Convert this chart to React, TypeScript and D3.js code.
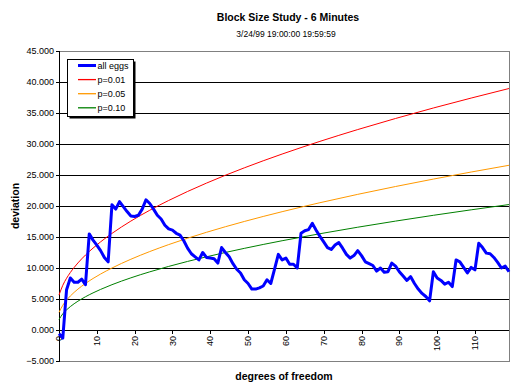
import React from "react";
import * as d3 from "d3";

const title = "Block Size Study - 6 Minutes";
const subtitle = "3/24/99 19:00:00 19:59:59";
const xTitle = "degrees of freedom";
const yTitle = "deviation";

// all eggs series, one value per category 0..119
const allEggs: number[] = [
  -0.6, -1.3, 6.5, 8.4, 7.7, 7.7, 8.2, 7.3, 15.5, 14.5,
  13.7, 12.8, 11.7, 11.0, 20.2, 19.5, 20.7, 19.9, 19.1, 18.4,
  18.3, 18.5, 19.5, 21.0, 20.4, 19.5, 18.5, 17.9, 16.9, 16.3,
  16.1, 15.6, 15.3, 14.4, 13.2, 12.3, 11.8, 11.3, 12.5, 11.7,
  11.6, 11.5, 10.8, 13.3, 12.5, 11.8, 10.7, 9.8, 9.2, 8.1,
  7.5, 6.6, 6.6, 6.8, 7.1, 8.1, 7.5, 9.8, 12.2, 11.3,
  11.6, 10.6, 10.6, 10.0, 15.6, 16.0, 16.2, 17.2, 16.1, 15.1,
  14.2, 13.3, 13.0, 13.7, 14.1, 13.2, 12.2, 11.6, 12.0, 12.8,
  12.0, 11.0, 10.7, 10.4, 9.5, 10.0, 9.3, 9.4, 10.8, 10.3,
  9.4, 8.7, 8.0, 8.6, 7.5, 6.6, 5.9, 5.4, 4.7, 9.4,
  8.4, 8.0, 7.4, 7.7, 7.0, 11.3, 11.0, 10.1, 9.2, 10.1,
  9.7, 14.0, 13.3, 12.4, 12.3, 11.7, 10.9, 10.0, 10.3, 9.4,
];

// threshold curves, sampled at these categories
const thresholdX: number[] = [0, 1, 2, 3, 4, 5, 6, 7, 8, 9, 11, 14, 19, 24, 29, 39, 49, 59, 69, 79, 89, 99, 109, 119];
const p01: number[] = [5.635, 7.21, 8.345, 9.277, 10.086, 10.812, 11.475, 12.09, 12.666, 13.209, 14.217, 15.578, 17.566, 19.314, 20.892, 23.691, 26.154, 28.379, 30.425, 32.329, 34.116, 35.807, 37.41, 38.95];
const p05: number[] = [2.841, 3.991, 4.815, 5.488, 6.07, 6.592, 7.067, 7.507, 7.919, 8.307, 9.026, 9.996, 11.41, 12.652, 13.773, 15.758, 17.505, 19.082, 20.531, 21.879, 23.145, 24.342, 25.48, 26.567];
const p10: number[] = [1.706, 2.605, 3.251, 3.779, 4.236, 4.645, 5.017, 5.362, 5.684, 5.987, 6.549, 7.307, 8.412, 9.382, 10.256, 11.805, 13.167, 14.397, 15.527, 16.578, 17.565, 18.498, 19.385, 20.233];

const yTicks: number[] = [-5, 0, 5, 10, 15, 20, 25, 30, 35, 40, 45];
const xTicks: number[] = [0, 10, 20, 30, 40, 50, 60, 70, 80, 90, 100, 110];

const seriesNames = ["all eggs", "p=0.01", "p=0.05", "p=0.10"];
const seriesColors = ["#0000FF", "#FF0000", "#FF9900", "#008000"];

const W = 519;
const H = 387;
const FONT = "'Liberation Sans', Arial, sans-serif";

export default function App() {
  const x = d3.scaleLinear().domain([0, allEggs.length - 1]).range([59, 509]);
  const y = d3.scaleLinear().domain([-5, 45]).range([361, 51]);

  const blueLine = d3
    .line<number>()
    .x((_, i) => x(i))
    .y((d) => y(d))
    .curve(d3.curveLinear)(allEggs) as string;

  const thLine = (vals: number[]) =>
    d3
      .line<number>()
      .x((_, i) => x(thresholdX[i]))
      .y((d) => y(d))
      .curve(d3.curveMonotoneX)(vals) as string;

  const [x0, x1] = x.range();
  const [yb, yt] = y.range();

  const fmt = d3.format(".3f");

  const legendX = 67;
  const legendY = 59;
  const legendW = 66;
  const legendH = 57;

  React.useEffect(() => {
    document.body.style.margin = "0";
  }, []);

  return (
    <svg
      width={W}
      height={H}
      style={{ position: "absolute", left: 0, top: 0, background: "#fff", display: "block" }}
      fontFamily={FONT}
    >
      <rect x={0} y={0} width={W} height={H} fill="#fff" />
      {/* titles */}
      <text x={288} y={20.5} textAnchor="middle" fontWeight="bold" fontSize={10.5} fill="#000">
        {title}
      </text>
      <text x={286} y={36.8} textAnchor="middle" fontSize={8.5} fill="#000">
        {subtitle}
      </text>

      {/* gridlines */}
      {yTicks
        .filter((t) => t > -5 && t < 45)
        .map((t) => (
          <line key={"g" + t} x1={x0} x2={x1} y1={Math.round(y(t)) + 0.5} y2={Math.round(y(t)) + 0.5} stroke="#000" strokeWidth={1} />
        ))}
      {/* plot border (gray) */}
      <line x1={x0} x2={x1} y1={Math.round(yt) + 0.5} y2={Math.round(yt) + 0.5} stroke="#808080" />
      <line x1={x0} x2={x1} y1={Math.round(yb) + 0.5} y2={Math.round(yb) + 0.5} stroke="#808080" />
      <line x1={x1 + 0.5} x2={x1 + 0.5} y1={yt} y2={yb + 1} stroke="#808080" />

      {/* y axis */}
      <line x1={x0 + 0.5} x2={x0 + 0.5} y1={yt} y2={yb + 1} stroke="#000" />
      {yTicks.map((t) => (
        <g key={"yt" + t}>
          <line x1={x0 - 3} x2={x0} y1={Math.round(y(t)) + 0.5} y2={Math.round(y(t)) + 0.5} stroke="#000" />
          <text x={54} y={y(t)} dy="0.35em" textAnchor="end" fontSize={9} fill="#000">
            {fmt(t)}
          </text>
        </g>
      ))}

      {/* x axis ticks + labels */}
      {xTicks.map((t) => (
        <g key={"xt" + t}>
          <line x1={Math.round(x(t)) + 0.5} x2={Math.round(x(t)) + 0.5} y1={y(0)} y2={y(0) + 4} stroke="#000" />
          <text
            transform={`translate(${x(t)},336) rotate(-90)`}
            dy="0.35em"
            textAnchor="end"
            fontSize={9}
            fill="#000"
          >
            {t}
          </text>
        </g>
      ))}

      {/* threshold curves */}
      <path d={thLine(p10)} fill="none" stroke={seriesColors[3]} strokeWidth={1} />
      <path d={thLine(p05)} fill="none" stroke={seriesColors[2]} strokeWidth={1} />
      <path d={thLine(p01)} fill="none" stroke={seriesColors[1]} strokeWidth={1} />

      {/* all eggs */}
      <path d={blueLine} fill="none" stroke={seriesColors[0]} strokeWidth={3} strokeLinejoin="round" strokeLinecap="butt" />

      {/* axis titles */}
      <text x={284} y={380} textAnchor="middle" fontWeight="bold" fontSize={10.5} fill="#000">
        {xTitle}
      </text>
      <text transform={`translate(18.5,206) rotate(-90)`} textAnchor="middle" fontWeight="bold" fontSize={10.5} fill="#000">
        {yTitle}
      </text>

      {/* legend */}
      <rect x={legendX + 2.5} y={legendY + 2.5} width={legendW} height={legendH} fill="#000" />
      <rect x={legendX + 0.5} y={legendY + 0.5} width={legendW} height={legendH} fill="#fff" stroke="#000" />
      {seriesNames.map((name, i) => {
        const cy = 65.5 + i * 14.1;
        return (
          <g key={name}>
            <line x1={78} x2={96} y1={cy} y2={cy} stroke={seriesColors[i]} strokeWidth={i === 0 ? 3 : 1.3} />
            <text x={97.5} y={cy} dy="0.35em" fontSize={9} fill="#000">
              {name}
            </text>
          </g>
        );
      })}
    </svg>
  );
}
